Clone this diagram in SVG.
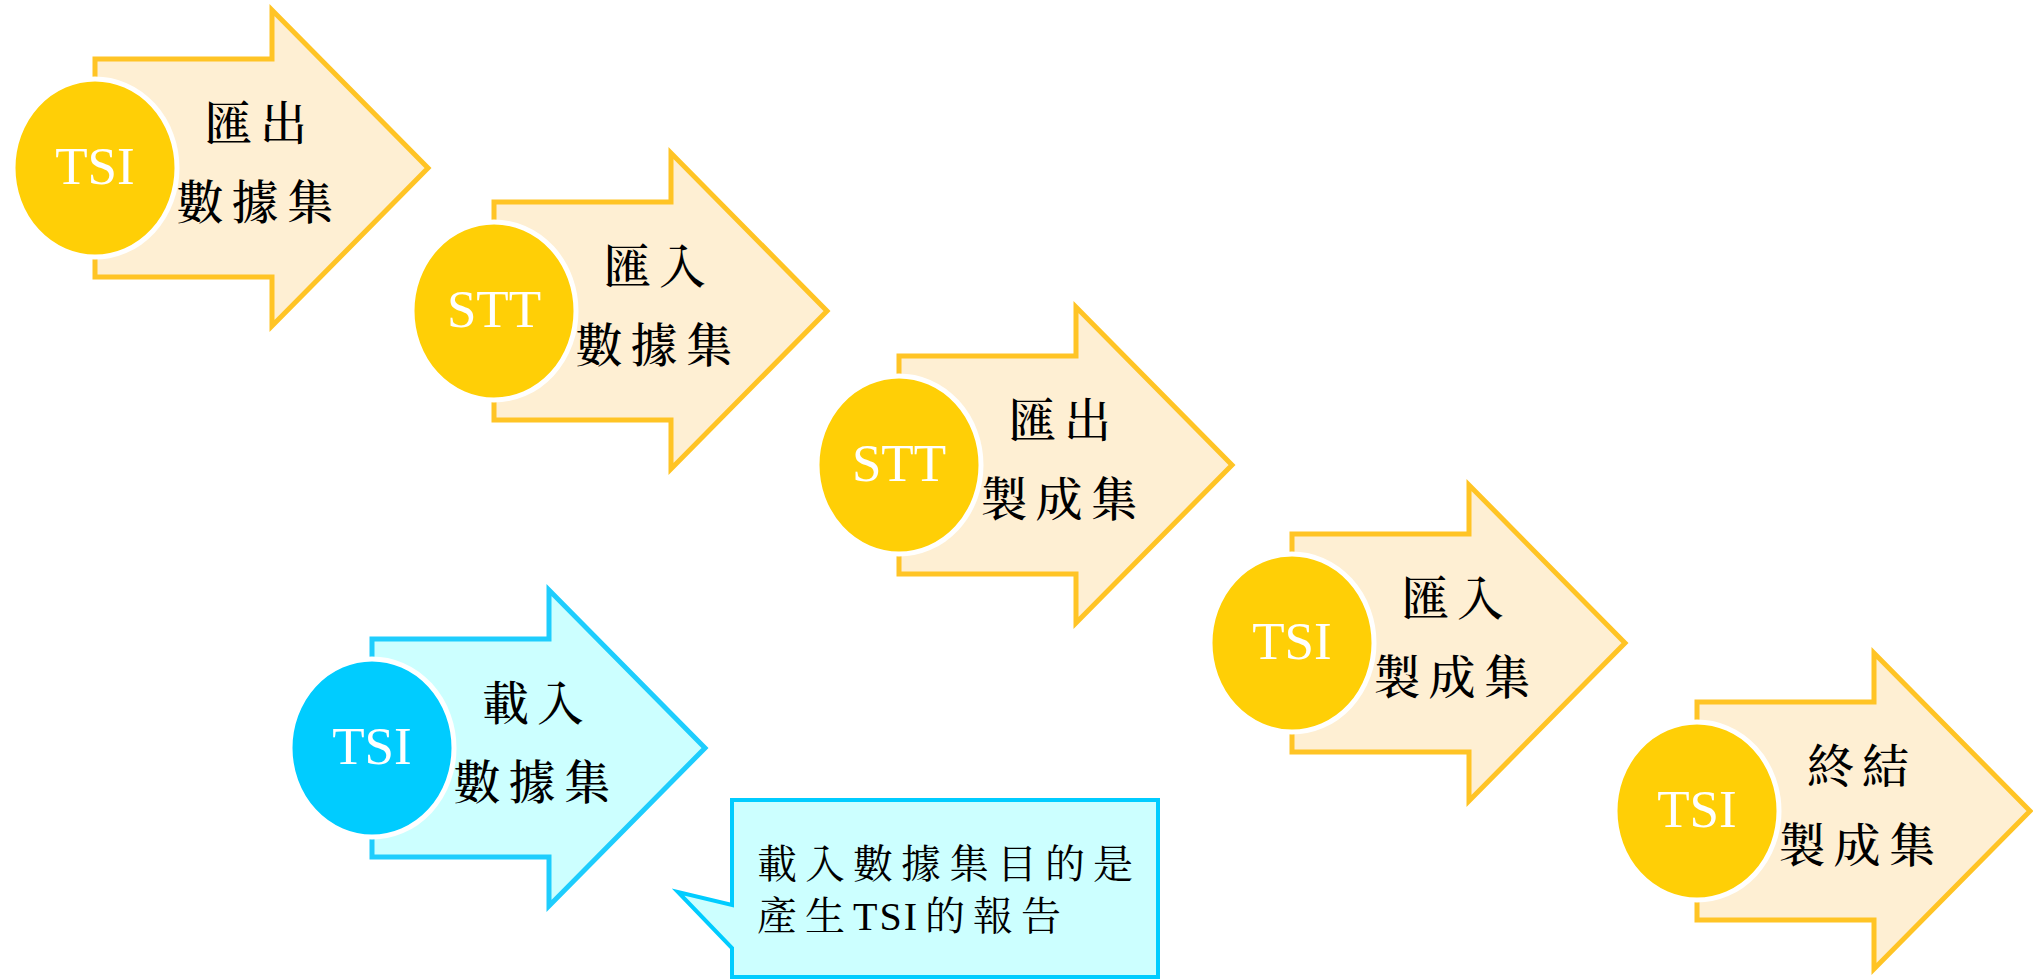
<svg xmlns="http://www.w3.org/2000/svg" width="2033" height="979" viewBox="0 0 2033 979">
<defs>
<style>
.arr{fill:#FEEFD3;stroke:#FFC425;stroke-width:5;stroke-linejoin:miter}
.arrb{fill:#CCFFFF;stroke:#1ECDFD;stroke-width:5;stroke-linejoin:miter}
.cir{fill:#FFCF06;stroke:#FFFFFF;stroke-width:5}
.cirb{fill:#00CCFF;stroke:#FFFFFF;stroke-width:5}
.lat{font-family:"Liberation Serif","Times New Roman",serif;font-size:53px;fill:#FFFFFF;text-anchor:middle}
.cjk{font-family:"Noto Serif CJK TC","Noto Sans CJK TC",sans-serif;font-size:47px;font-weight:500;fill:#000000;text-anchor:middle;dominant-baseline:central;letter-spacing:8px}
.call{font-family:"Liberation Serif","Noto Serif CJK TC","Noto Sans CJK TC",serif;font-size:40px;fill:#000000;dominant-baseline:central;letter-spacing:8px}
.tight{letter-spacing:2px}
</style>
<path id="arrow" d="M0,-109 H177 V-158 L333,0 L177,158 V109 H0 Z"/>
</defs>
<g id="node1" transform="translate(95,168)">
<use href="#arrow" class="arr"/>
<ellipse cx="0" cy="0" rx="82" ry="89" class="cir"/>
<text x="0" y="16" class="lat">TSI</text>
<text x="165" y="-49" class="cjk">匯出</text>
<text x="164" y="30" class="cjk">數據集</text>
</g>
<g id="node2" transform="translate(494,311)">
<use href="#arrow" class="arr"/>
<ellipse cx="0" cy="0" rx="82" ry="89" class="cir"/>
<text x="0" y="16" class="lat">STT</text>
<text x="165" y="-49" class="cjk">匯入</text>
<text x="164" y="30" class="cjk">數據集</text>
</g>
<g id="node3" transform="translate(899,465)">
<use href="#arrow" class="arr"/>
<ellipse cx="0" cy="0" rx="82" ry="89" class="cir"/>
<text x="0" y="16" class="lat">STT</text>
<text x="165" y="-49" class="cjk">匯出</text>
<text x="164" y="30" class="cjk">製成集</text>
</g>
<g id="node4" transform="translate(1292,643)">
<use href="#arrow" class="arr"/>
<ellipse cx="0" cy="0" rx="82" ry="89" class="cir"/>
<text x="0" y="16" class="lat">TSI</text>
<text x="165" y="-49" class="cjk">匯入</text>
<text x="164" y="30" class="cjk">製成集</text>
</g>
<g id="node5" transform="translate(1697,811)">
<use href="#arrow" class="arr"/>
<ellipse cx="0" cy="0" rx="82" ry="89" class="cir"/>
<text x="0" y="16" class="lat">TSI</text>
<text x="165" y="-49" class="cjk">終結</text>
<text x="164" y="30" class="cjk">製成集</text>
</g>
<g id="node6" transform="translate(372,748)">
<use href="#arrow" class="arrb"/>
<ellipse cx="0" cy="0" rx="82" ry="89" class="cirb"/>
<text x="0" y="16" class="lat">TSI</text>
<text x="165" y="-49" class="cjk">載入</text>
<text x="164" y="30" class="cjk">數據集</text>
</g>
<g id="callout">
<path d="M732,800 H1158 V977 H732 V948 L678,892 L732,905 Z" fill="#CCFFFF" stroke="#00CCFF" stroke-width="4"/>
<text x="757" y="864" class="call">載入數據集目的是</text>
<text x="757" y="916" class="call">產生<tspan class="tight">TS</tspan>I的報告</text>
</g>
<g id="connectors"></g>
</svg>
